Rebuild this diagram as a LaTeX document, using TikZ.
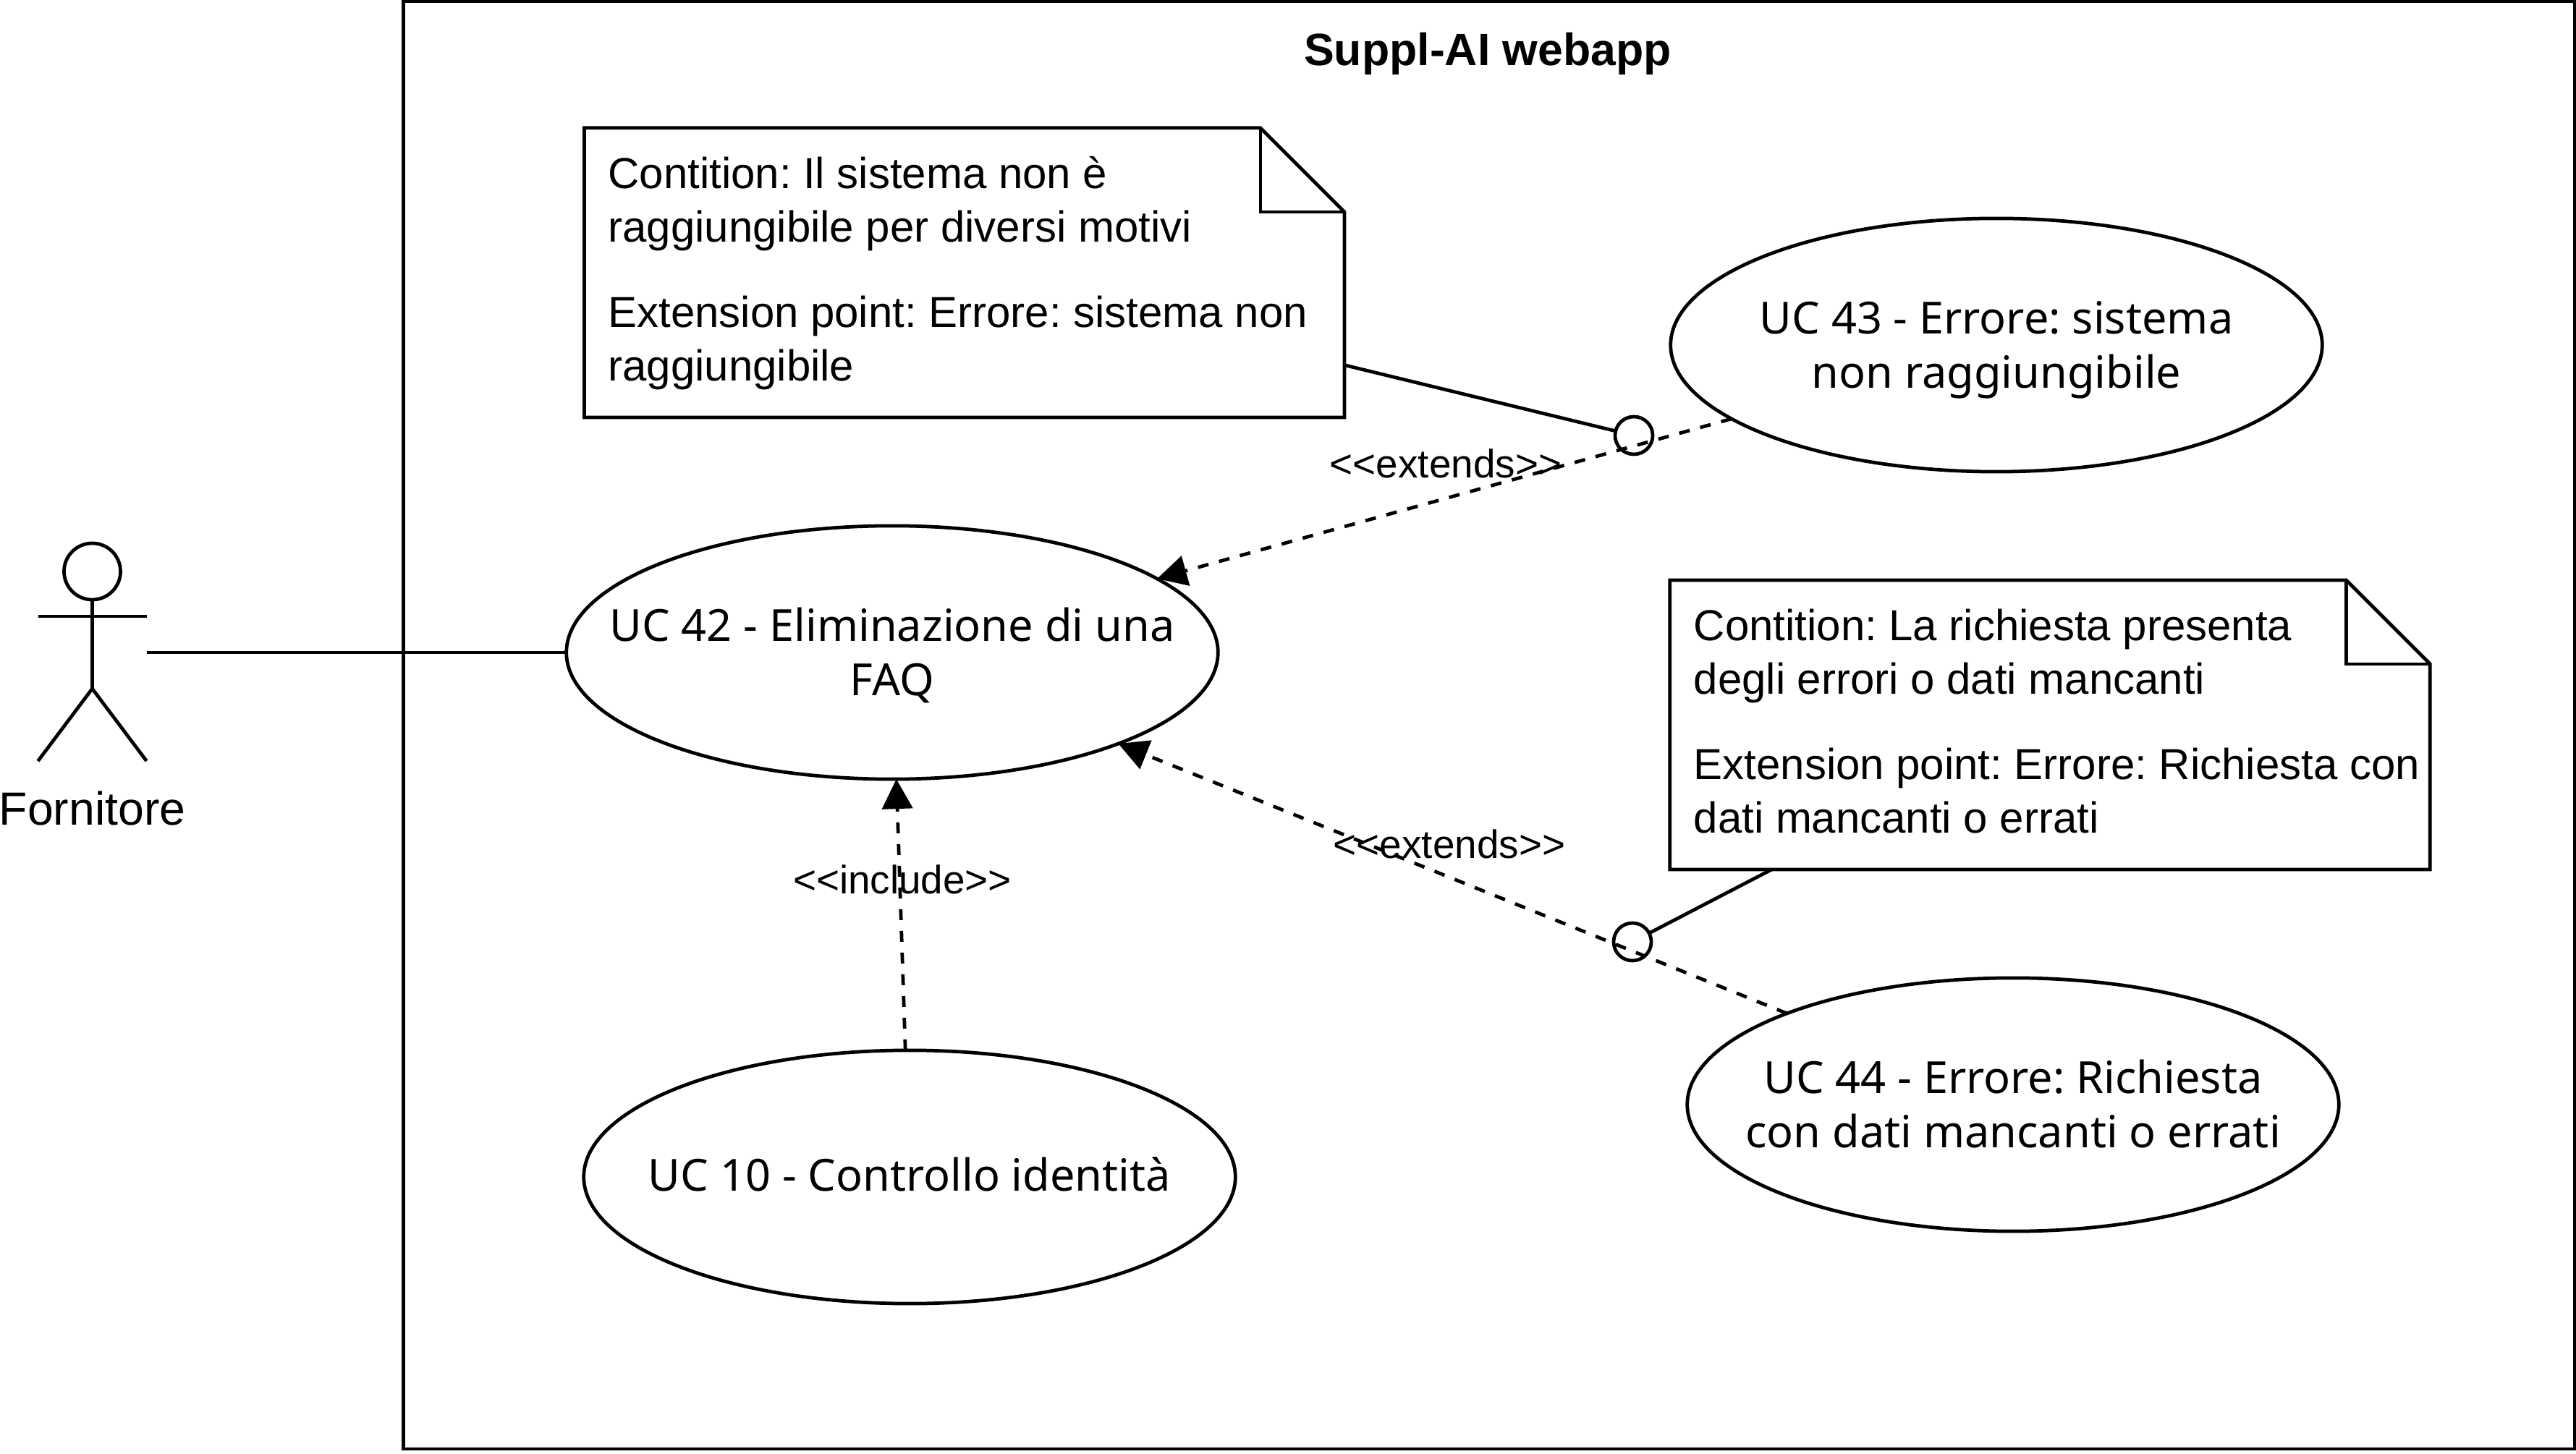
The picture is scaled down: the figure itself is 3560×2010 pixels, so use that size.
\documentclass[tikz,border=0pt]{standalone}
\usepackage{fontspec}
\setmainfont{Liberation Sans}
\newfontfamily\ucfont{Noto Sans}
\usetikzlibrary{arrows.meta}
\usetikzlibrary{shapes.geometric}
\usetikzlibrary{positioning}
\frenchspacing

\begin{document}
\begin{tikzpicture}[
        x=0.01cm, y=-0.01cm, line width=1.35pt, line join=miter,
        every node/.style={inner sep=0pt, outer sep=0pt},
        usecase/.style={ellipse,draw,inner xsep=-3cm,minimum width=9cm,minimum height=3.5cm,align=center,font=\ucfont\fontsize{17.4}{21.3}\selectfont},
        notebox/.style={rectangle,minimum width=10.5cm,minimum height=4cm},
        notetext/.style={align=left,anchor=west,font=\fontsize{17.05}{21}\selectfont},
        extpoint/.style={circle,draw,minimum size=0.52cm},
        stereo/.style={font=\fontsize{15.6}{18}\selectfont},
        actorbox/.style={rectangle,minimum width=1.5cm,minimum height=3cm},
        relation/.style={dashed,dash pattern=on 0.15cm off 0.15cm,-{Triangle[length=0.41cm,width=0.42cm]}}
        ]
        \useasboundingbox (0,0) rectangle (3560,2010);

        % system boundary
        \node[rectangle,draw,minimum width=29.995cm,minimum height=20cm] (webapp) at (2057.75,1002.5) {};
        \node[font=\bfseries\fontsize{17.8}{21}\selectfont] (webapptitle) at (2056,74) {Suppl-AI webapp};

        % actor
        \node[actorbox] (actor) at (127.5,902) {};
        \node[circle,draw,minimum size=0.78cm] (head) at (127.5,790) {};
        \coordinate (hip) at (127.5,952);
        \coordinate (lefthand) at (52.5,852);
        \coordinate (righthand) at (202.5,852);
        \draw (head) -- (hip);
        \draw (lefthand) -- (righthand);
        \draw (hip) -- (actor.south west);
        \draw (hip) -- (actor.south east);
        \node[below=0.42cm of actor,font=\fontsize{18.3}{21}\selectfont] (actorname) {Fornitore};

        % use cases
        \node[usecase] (uc42) at (1233,902) {\rule{0pt}{18.9pt}UC 42 - Eliminazione di una\\FAQ\strut};
        \node[usecase] (uc43) at (2759,477) {\rule{0pt}{18.9pt}UC 43 - Errore: sistema\\non raggiungibile\strut};
        \node[usecase] (uc44) at (2782,1527) {\rule{0pt}{18.9pt}UC 44 - Errore: Richiesta\\con dati mancanti o errati\strut};
        \node[usecase] (uc10) at (1257,1627) {\rule{0pt}{17.5pt}UC 10 - Controllo identità\strut};

        % notes
        \node[notebox] (note43) at (1332.7,377) {};
        \draw (note43.south west) -- (note43.north west) -- ([xshift=-1.16cm]note43.north east)
          -- ([yshift=-1.16cm]note43.north east) -- (note43.south east) -- cycle;
        \draw ([xshift=-1.16cm]note43.north east) -- ([xshift=-1.16cm,yshift=-1.16cm]note43.north east)
          -- ([yshift=-1.16cm]note43.north east);
        \node[notetext] (note43text) at ([xshift=0.33cm,yshift=-0.02cm]note43.west)
          {\strut Contition: Il sistema non è\\raggiungibile per diversi motivi\\[0.44cm]Extension point: Errore: sistema non\\raggiungibile\strut};

        \node[notebox] (note44) at (2833,1002) {};
        \draw (note44.south west) -- (note44.north west) -- ([xshift=-1.16cm]note44.north east)
          -- ([yshift=-1.16cm]note44.north east) -- (note44.south east) -- cycle;
        \draw ([xshift=-1.16cm]note44.north east) -- ([xshift=-1.16cm,yshift=-1.16cm]note44.north east)
          -- ([yshift=-1.16cm]note44.north east);
        \node[notetext] (note44text) at ([xshift=0.33cm,yshift=-0.02cm]note44.west)
          {\strut Contition: La richiesta presenta\\degli errori o dati mancanti\\[0.44cm]Extension point: Errore: Richiesta con\\dati mancanti o errati\strut};

        % extension points
        \node[extpoint] (point43) at (2258,602) {};
        \node[extpoint] (point44) at (2256,1302) {};

        % connectors
        \draw (actor) -- (uc42);
        \draw (note43) -- (point43);
        \draw (note44) -- (point44);
        \draw[relation] (uc43) -- (uc42);
        \draw[relation] (uc44) -- (uc42);
        \draw[relation] (uc10) -- (uc42);

        % stereotypes
        \node[stereo] (extends43) at (1998,641) {<{}<extends>{}>};
        \node[stereo] (extends44) at (2003,1167) {<{}<extends>{}>};
        \node[stereo] (include10) at (1247,1216) {<{}<include>{}>};
      \end{tikzpicture}
\end{document}
